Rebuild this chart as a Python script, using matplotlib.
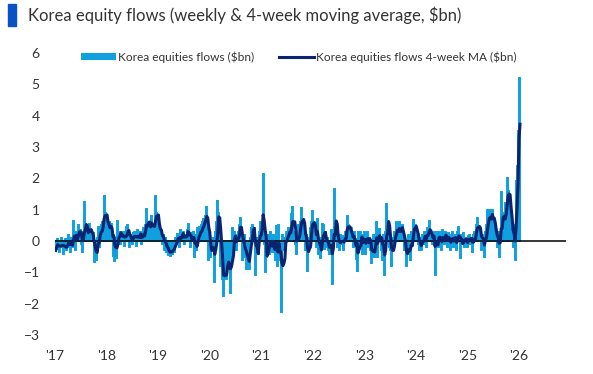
import numpy as np
import pandas as pd
import matplotlib
matplotlib.use("Agg")
import matplotlib.pyplot as plt
from matplotlib.patches import Rectangle
from matplotlib.lines import Line2D
from matplotlib.patches import Patch

plt.rcParams['font.family'] = ['Lato', 'DejaVu Sans']

# weekly Korea equity flows ($bn), one list per year (Friday weeks)
y2017 = [-0.3,-0.1,0.05,-0.25,-0.35,-0.1,0.1,-0.2,-0.4,-0.15,0.05,-0.3,-0.2,0.2,-0.1,-0.35,
         0.1,-0.2,0.63,0.1,-0.3,0.3,0.15,0.5,0.2,0.35,-0.1,-0.35,0.3,1.25,0.2,0.35,
         0.1,0.4,0.55,0.2,0.3,0.05,0.25,-0.67,-0.3,-0.6,0.1,0.45,-0.2,0.35,0.5,0.6,0.3,1.43,0.9,0.6]
y2018 = [0.4,0.5,0.6,0.2,0.55,0.3,-0.5,0.2,-0.63,0.1,-0.55,0.65,
         0.2,0.3,-0.1,0.25,0.3,0.1,-0.15,0.3,0.45,
         0.5,0.1,-0.2,0.2,0.15,-0.1,0.25,0.3,
         0.1,-0.15,0.35,0.2,0.05,0.3,-0.1,0.25,0.4,0.1,0.5,
         1.02,0.3,0.5,0.6,0.4,0.8,0.2,0.5,0.35,1.43,0.9,0.4]
y2019 = [0.6,0.3,0.2,
         0.3,-0.1,0.2,-0.3,0.1,-0.35,-0.2,-0.45,-0.3,-0.47,-0.2,-0.4,-0.1,-0.35,0.1,
         -0.1,0.22,0.1,-0.2,
         0.35,0.1,0.2,0.3,-0.1,0.2,0.1,0.35,0.55,
         0.1,-0.2,0.25,0.0,0.3,-0.1,-0.5,0.2,-0.3,
         0.4,0.2,0.45,0.1,0.5,0.6,0.7,0.55,0.8,1.1,0.4,-0.6]
y2020 = [0.2,-0.5,-0.3,-0.2,0.1,-1.3,0.3,0.6,1.27,0.9,0.2,-0.8,-0.6,-1.2,-1.75,-0.9,
         -0.5,-1.2,-0.7,-0.3,-0.9,-1.65,-0.4,0.43,-0.2,0.3,
         0.1,-0.3,0.2,0.3,0.5,0.75,0.2,-0.6,-0.1,0.2,-0.5,-0.9,-0.6,-0.2,-0.9,0.1,
         0.4,0.5,0.3,0.4,-1.1,-0.2,0.1,-0.4,0.3,0.6]
y2021 = [0.2,0.4,2.15,-0.1,-1.0,
         -0.5,-0.3,0.2,-0.4,0.3,-0.2,-0.35,0.2,
         -0.35,-0.6,0.5,-0.5,-0.8,0.5,-0.6,-0.5,-2.26,0.2,-0.3,0.1,-0.1,
         0.3,0.1,0.4,0.35,0.2,0.85,1.1,0.2,0.3,-0.1,-0.4,0.3,0.5,0.2,0.6,1.05,
         0.7,0.4,0.1,-0.3,0.2,-0.95,-0.3,0.1,0.4,0.6]
y2022 = [0.95,0.3,0.5,0.2,-0.2,0.7,-0.4,-0.3,-0.55,0.1,
         0.55,0.5,-0.25,0.3,-0.2,0.1,-0.3,-0.4,-0.2,0.35,-1.37,0.2,1.66,0.3,0.4,
         -0.2,0.1,-0.3,0.2,-0.1,0.15,-0.3,0.1,0.3,0.2,0.8,
         0.5,0.3,0.2,0.4,0.1,-0.2,0.3,-0.1,-0.57,0.1,-0.96,0.3,-0.2,0.3,0.1,-0.4]
y2023 = [0.2,0.3,-0.4,0.1,0.3,-0.2,0.1,-0.3,-0.7,-0.4,0.2,-0.5,
         0.1,0.6,-0.5,0.2,0.38,0.1,-0.3,-0.6,0.2,-1.08,0.3,1.18,0.6,0.4,
         -0.2,-0.3,-0.8,0.1,-0.2,0.3,0.2,0.6,0.3,0.1,0.6,0.2,0.4,0.5,
         0.1,-0.3,-0.2,-0.8,-0.3,0.2,-0.4,-0.6,0.3,0.1,0.67,0.4]
y2024 = [0.5,0.3,0.2,-0.1,-0.3,0.1,-0.3,0.2,-0.1,0.3,0.2,-0.2,0.4,0.3,
         0.65,0.1,0.2,-0.1,0.2,0.3,-1.1,0.2,0.3,0.1,-0.2,0.3,0.1,-0.3,
         0.35,0.2,-0.1,0.3,0.1,-0.2,0.25,0.1,-0.3,0.2,0.3,-0.2,
         0.1,0.2,-0.3,0.3,0.45,0.1,-0.53,0.2,-0.1,0.25,-0.2,0.1]
y2025 = [0.1,-0.2,0.15,0.2,-0.1,0.1,-0.35,0.2,0.3,0.1,0.5,0.75,0.4,0.2,0.3,-0.3,0.2,0.1,
         -0.5,0.3,0.5,1.0,0.4,1.0,0.6,0.8,1.0,0.5,0.6,0.2,0.1,-0.2,0.3,-0.5,0.2,
         1.55,0.4,0.9,0.3,1.2,1.0,2.0,1.6,1.4,0.9,0.4,0.3,-0.2,0.5,-0.6,1.9,2.4]
y2026 = [3.5,5.2,3.8]

years = list(range(2017, 2027))
ylabs = ["'%s" % str(y)[2:] for y in years]

flows = y2017 + y2018 + y2019 + y2020 + y2021 + y2022 + y2023 + y2024 + y2025 + y2026
dates = pd.date_range('2017-01-06', periods=len(flows), freq='W-FRI')
s = pd.Series(flows, index=dates)
ma = s.rolling(4, min_periods=1).mean()

cLight = '#109fdf'
cDark = '#0a2472'
cText = '#333333'

fig = plt.figure(figsize=(5.93, 3.74), dpi=100)
ax = fig.add_axes([55/593, 39/374, (566-55)/593, (335-53)/374])

ax.bar(dates, s.values, width=7, color=cLight, edgecolor=cLight, linewidth=1.4, zorder=1)
ax.axhline(0, color='black', lw=1.1, zorder=2)
ax.plot(dates, ma.values, color=cDark, lw=2.2, zorder=3)

ax.set_ylim(-3, 6)
ax.set_yticks(range(-3, 7))
ax.set_xlim(pd.Timestamp('2017-01-01'), pd.Timestamp('2026-12-01'))
ax.set_xticks([pd.Timestamp('%d-01-01' % y) for y in years])
ax.set_xticklabels(ylabs)
for sp in ax.spines.values():
	sp.set_visible(False)
ax.tick_params(axis='both', length=0, labelsize=10, colors=cText)
ax.tick_params(axis='y', pad=11)
ax.tick_params(axis='x', pad=11)

hands = [Patch(facecolor=cLight, edgecolor='none'), Line2D([], [], color=cDark, lw=2.2)]
labs = ['Korea equities flows ($bn)', 'Korea equities flows 4-week MA ($bn)']
fig.legend(hands, labs, loc='center left', bbox_to_anchor=(75/593, 1-57/374), ncol=2, frameon=False,
           fontsize=8.6, handlelength=2.9, handleheight=0.45, handletextpad=0.2, columnspacing=2.1,
           borderpad=0, labelcolor=cText)

fig.patches.append(Rectangle((8/593, 1-26/374), 8/593, 22/374, transform=fig.transFigure,
                             color='#0a52c4', figure=fig))
fig.text(28/593, 1-15/374, 'Korea equity flows (weekly & 4-week moving average, $bn)',
         fontsize=12, color=cText, va='center', ha='left')

fig.savefig('out.png', dpi=100)
